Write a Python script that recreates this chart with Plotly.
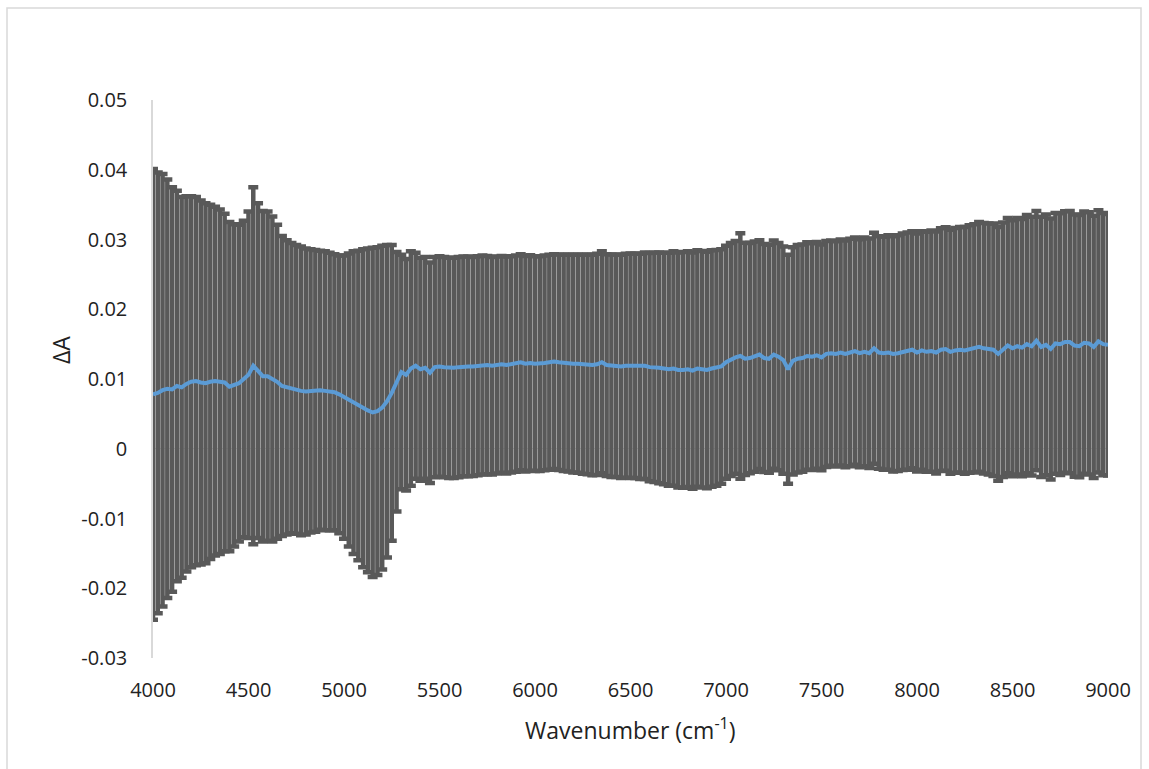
import plotly.graph_objects as go

# Wavenumber grid (cm^-1), every 25 cm^-1 from 4000 to 9000
wavenumber = list(range(4000, 9001, 25))

# Mean ΔA
delta_a = [
    0.0078, 0.0080, 0.0084, 0.0086, 0.0085, 0.0090, 0.0088, 0.0093, 0.0096, 0.0097,
    0.0095, 0.0094, 0.0096, 0.0097, 0.0096, 0.0095, 0.0089, 0.0091, 0.0094, 0.0100,
    0.0106, 0.0119, 0.0112, 0.0104, 0.0104, 0.0100, 0.0096, 0.0090, 0.0088, 0.0087,
    0.0085, 0.0083, 0.0082, 0.0083, 0.0083, 0.0084, 0.0083, 0.0082, 0.0081, 0.0078,
    0.0074, 0.0070, 0.0066, 0.0062, 0.0058, 0.0055, 0.0052, 0.0054, 0.0059, 0.0068,
    0.0080, 0.0096, 0.0110, 0.0106, 0.0115, 0.0119, 0.0114, 0.0116, 0.0109, 0.0117,
    0.0118, 0.0117, 0.0116, 0.0116, 0.0117, 0.0118, 0.0118, 0.0118, 0.0119, 0.0120,
    0.0120, 0.0119, 0.0120, 0.0121, 0.0120, 0.0121, 0.0122, 0.0124, 0.0122, 0.0123,
    0.0122, 0.0122, 0.0123, 0.0124, 0.0125, 0.0124, 0.0123, 0.0123, 0.0122, 0.0122,
    0.0121, 0.0121, 0.0120, 0.0121, 0.0124, 0.0120, 0.0119, 0.0119, 0.0118, 0.0119,
    0.0119, 0.0119, 0.0118, 0.0119, 0.0117, 0.0117, 0.0116, 0.0115, 0.0114, 0.0115,
    0.0113, 0.0113, 0.0114, 0.0112, 0.0115, 0.0114, 0.0113, 0.0115, 0.0116, 0.0118,
    0.0124, 0.0128, 0.0131, 0.0133, 0.0129, 0.0130, 0.0132, 0.0135, 0.0130, 0.0129,
    0.0135, 0.0132, 0.0127, 0.0114, 0.0126, 0.0129, 0.0130, 0.0133, 0.0132, 0.0134,
    0.0131, 0.0136, 0.0137, 0.0136, 0.0138, 0.0136, 0.0138, 0.0140, 0.0137, 0.0139,
    0.0137, 0.0144, 0.0138, 0.0137, 0.0138, 0.0136, 0.0137, 0.0139, 0.0140, 0.0142,
    0.0138, 0.0141, 0.0139, 0.0140, 0.0138, 0.0142, 0.0143, 0.0139, 0.0141, 0.0142,
    0.0141, 0.0143, 0.0144, 0.0146, 0.0144, 0.0143, 0.0142, 0.0136, 0.0142, 0.0148,
    0.0144, 0.0147, 0.0145, 0.0150, 0.0147, 0.0155, 0.0146, 0.0149, 0.0143, 0.0151,
    0.0150, 0.0153, 0.0153, 0.0148, 0.0147, 0.0152, 0.0151, 0.0146, 0.0154, 0.0150,
    0.0149,
]

# Symmetric error (± half-width of the grey bars)
delta_a_err = [
    0.0323, 0.0316, 0.0310, 0.0300, 0.0290, 0.0280, 0.0273, 0.0269, 0.0266, 0.0264,
    0.0261, 0.0258, 0.0254, 0.0250, 0.0247, 0.0242, 0.0236, 0.0231, 0.0227, 0.0227,
    0.0234, 0.0256, 0.0240, 0.0237, 0.0236, 0.0233, 0.0225, 0.0215, 0.0211, 0.0208,
    0.0207, 0.0207, 0.0205, 0.0203, 0.0202, 0.0200, 0.0200, 0.0199, 0.0198, 0.0199,
    0.0203, 0.0210, 0.0217, 0.0222, 0.0228, 0.0232, 0.0236, 0.0235, 0.0232, 0.0224,
    0.0212, 0.0186, 0.0168, 0.0166, 0.0168, 0.0162, 0.0160, 0.0159, 0.0158, 0.0158,
    0.0158, 0.0158, 0.0158, 0.0158, 0.0158, 0.01575, 0.01575, 0.0157, 0.0157, 0.0157,
    0.01565, 0.0156, 0.01555, 0.01555, 0.01555, 0.0155, 0.0155, 0.0155, 0.01545, 0.01545,
    0.0154, 0.0154, 0.0154, 0.0154, 0.0154, 0.01545, 0.0155, 0.01555, 0.0156, 0.01565,
    0.0157, 0.01575, 0.0158, 0.01585, 0.0159, 0.0159, 0.01595, 0.01595, 0.0160, 0.01605,
    0.0161, 0.0161, 0.01615, 0.01625, 0.01635, 0.01645, 0.01655, 0.0166, 0.0167, 0.0168,
    0.01685, 0.0169, 0.0169, 0.01695, 0.01695, 0.01695, 0.01695, 0.01695, 0.0169, 0.0168,
    0.0167, 0.0167, 0.0167, 0.0176, 0.01665, 0.0165, 0.0165, 0.0164, 0.01635, 0.01635,
    0.01635, 0.0163, 0.0163, 0.0164, 0.0163, 0.0163, 0.0163, 0.0163, 0.01625, 0.01625,
    0.0162, 0.0162, 0.01615, 0.01615, 0.0162, 0.01625, 0.0163, 0.0163, 0.01635, 0.0164,
    0.01645, 0.01655, 0.01665, 0.0167, 0.0168, 0.01685, 0.0169, 0.01695, 0.0170, 0.0170,
    0.01705, 0.0171, 0.0172, 0.0173, 0.01735, 0.0174, 0.01745, 0.0175, 0.01755, 0.0176,
    0.0177, 0.01775, 0.0178, 0.0179, 0.01795, 0.0180, 0.0181, 0.0182, 0.01825, 0.0183,
    0.01835, 0.0184, 0.01845, 0.0185, 0.01855, 0.0186, 0.01865, 0.0187, 0.0187, 0.0187,
    0.01875, 0.01875, 0.0188, 0.0188, 0.0188, 0.0188, 0.0188, 0.0188, 0.0188, 0.0188,
    0.01875,
]

x_ticks = [4000, 4500, 5000, 5500, 6000, 6500, 7000, 7500, 8000, 8500, 9000]
x_tick_text = ["4000", "4500", "5000", "5500", "6000", "6500", "7000", "7500", "8000", "8500", "9000"]
y_ticks = [0.05, 0.04, 0.03, 0.02, 0.01, 0, -0.01, -0.02, -0.03]
y_tick_text = ["0.05", "0.04", "0.03", "0.02", "0.01", "0", "-0.01", "-0.02", "-0.03"]

FONT = "Open Sans"
W, H = 1149, 769
L, R, T, B = 153, 41, 100, 111
pw, ph = W - L - R, H - T - B


def px(xp):
    return (xp - L) / pw


def py(yp):
    return (H - B - yp) / ph


fig = go.Figure()

# Error bars (grey)
fig.add_trace(go.Scatter(
    x=wavenumber, y=delta_a, mode="markers",
    marker=dict(size=0.1, opacity=0),
    error_y=dict(type="data", array=delta_a_err, symmetric=True,
                 color="#595959", thickness=4.5, width=5),
    hoverinfo="skip", showlegend=False,
))

# Mean curve (blue)
fig.add_trace(go.Scatter(
    x=wavenumber, y=delta_a, mode="lines",
    line=dict(color="#5B9BD5", width=4),
    showlegend=False,
))

fig.update_layout(
    width=W, height=H,
    margin=dict(l=L, r=R, t=T, b=B, pad=0),
    paper_bgcolor="white", plot_bgcolor="white",
    font=dict(family=FONT, size=20, color="#222222"),
    showlegend=False,
    xaxis=dict(range=[4000, 9000], tickvals=x_ticks, ticktext=x_tick_text,
               showgrid=False, zeroline=False, showline=False, ticks="",
               ticklabelstandoff=18,
               tickfont=dict(family=FONT, size=20, color="#222222")),
    yaxis=dict(range=[-0.03, 0.05], tickvals=y_ticks, ticktext=y_tick_text,
               showgrid=False, zeroline=True, zerolinecolor="#D9D9D9", zerolinewidth=1,
               showline=True, linecolor="#D9D9D9", linewidth=1.5, ticks="",
               ticklabelstandoff=20,
               tickfont=dict(family=FONT, size=20, color="#222222")),
    shapes=[dict(type="rect", xref="paper", yref="paper",
                 x0=px(7), x1=px(1141), y0=py(790), y1=py(8),
                 line=dict(color="#D9D9D9", width=1.5), fillcolor="rgba(0,0,0,0)",
                 layer="below")],
    annotations=[
        dict(text="Wavenumber (cm<sup>-1</sup>)", xref="paper", yref="paper",
             x=0.5, y=py(729), xanchor="center", yanchor="middle", showarrow=False,
             font=dict(family=FONT, size=23, color="#222222")),
        dict(text="ΔA", xref="paper", yref="paper",
             x=px(61), y=py(350), xanchor="center", yanchor="middle", showarrow=False,
             textangle=-90, font=dict(family=FONT, size=23, color="#222222")),
    ],
)

fig.write_html("out.html")
